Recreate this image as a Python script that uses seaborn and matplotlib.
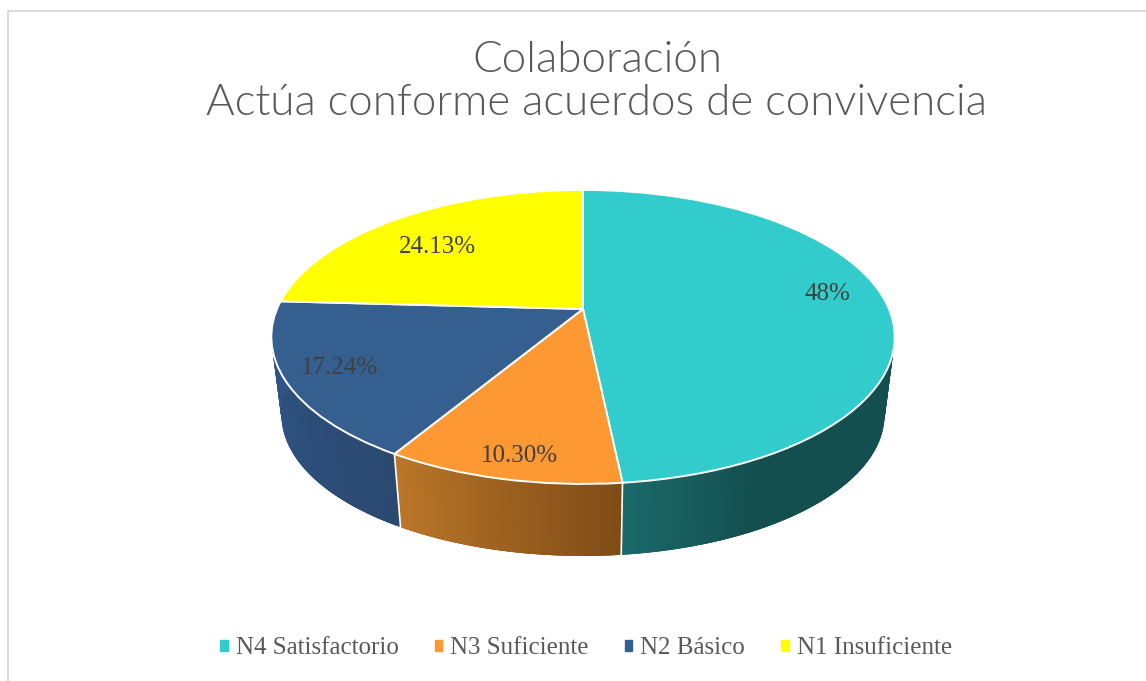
import numpy as np
import matplotlib
matplotlib.use('Agg')
import matplotlib.pyplot as plt
import seaborn as sns
from matplotlib import font_manager as fm
from matplotlib.patches import Patch
from matplotlib.transforms import Transform

sns.set_theme(style='white')

categories = ['N4 Satisfactorio', 'N3 Suficiente', 'N2 Básico', 'N1 Insuficiente']
values = [48.33, 10.30, 17.24, 24.13]
value_labels = ['48%', '10.30%', '17.24%', '24.13%']
top_colors = ['#33CCCC', '#FD9832', '#355F8E', '#FFFF00']
# wall shade at the start and end of each slice (clockwise)
wall_colors = [('#144F4F', '#1B6A6A'), ('#7F4C17', '#BC7829'), ('#2A4970', '#31568A'), ('#A0A000', '#A0A000')]
title = 'Colaboración\nActúa conforme acuerdos de convivencia'

# pixel position of the labels
label_xy = [(827, 294), (519, 456), (339, 368), (437, 247)]


class Tilt(Transform):
    # unit circle -> tilted disc seen in perspective, result in pixels
    input_dims = 2
    output_dims = 2
    is_separable = False

    def __init__(self, cx, cy, b, a, p):
        super().__init__()
        self.cx, self.cy, self.b, self.a, self.p = cx, cy, b, a, p

    def transform_non_affine(self, xy):
        xy = np.asarray(xy, dtype=float)
        d = 1 + self.p * xy[:, 1]
        return np.column_stack([self.cx + self.b * xy[:, 0] / d,
                                self.cy - self.a * xy[:, 1] / d])


top_ring = Tilt(583, 309, 306, 141.7, 0.19)
low_ring = Tilt(583, 388, 296, 136, 0.19)

fig = plt.figure(figsize=(11.46, 6.81), dpi=100)
ax = fig.add_axes([0, 0, 1, 1])

wedges = ax.pie(values, colors=top_colors, startangle=90, counterclock=False,
                wedgeprops={'edgecolor': 'white', 'linewidth': 1.4})[0]
ax.set(xlim=(0, 1146), ylim=(681, 0), aspect='auto')
ax.axis('off')
for w in wedges:
    w.set_transform(top_ring + ax.transData)
    w.set_zorder(5)

# side wall, strips overlap the next one so no seams show
ends = np.cumsum(values) / np.sum(values) * 360
starts = np.r_[0, ends[:-1]]
for i, (s, e) in enumerate(zip(starts, ends)):
    angles = np.radians(np.arange(s, e, 0.5))
    angles = np.r_[angles, np.radians(e)]
    shades = sns.blend_palette(wall_colors[i], len(angles))
    if i == 0:
        # teal stays dark until the last part of the slice
        n_light = int(len(angles) * 0.13)
        shades = [wall_colors[0][0]] * (len(angles) - n_light) + sns.blend_palette(wall_colors[0], n_light)
    ring = np.column_stack([np.sin(angles), np.cos(angles)])
    top = top_ring.transform_non_affine(ring)
    low = low_ring.transform_non_affine(ring)
    n = len(angles)
    for j in range(n - 1):
        k = min(j + 3, n - 1)
        quad = np.vstack([top[j:k + 1], low[j:k + 1][::-1]])
        ax.fill(quad[:, 0], quad[:, 1], color=shades[j], lw=0, zorder=2 + i * 0.1)
    ax.plot([top[-1, 0], low[-1, 0]], [top[-1, 1], low[-1, 1]], color='white', lw=1.2, zorder=3)

for (x, y), txt in zip(label_xy, value_labels):
    ax.text(x, y, txt, ha='center', va='center', fontsize=18, color='#404040',
            family='Liberation Serif', zorder=6)

# weight='light' picks the hairline cut, so look for the light file itself
light = [f.fname for f in fm.fontManager.ttflist
         if f.name == 'Lato' and f.fname.endswith('Lato-Light.ttf')]
title_font = fm.FontProperties(fname=light[0]) if light else fm.FontProperties(family='Lato')
title_font.set_size(31.6)
ax.text(597, 82, title, ha='center', va='center', color='#595959',
        fontproperties=title_font, linespacing=1.12)

ax.plot([8, 8, 1146], [681, 11, 11], color='#D9D9D9', lw=1.4)

handles = [Patch(color=c) for c in top_colors]
ax.legend(handles, categories, loc='center', bbox_to_anchor=(586 / 1146, 1 - 648 / 681), ncol=4,
          frameon=False, handlelength=0.3, handleheight=0.3, handletextpad=0.32, columnspacing=1.45,
          prop={'family': 'Liberation Serif', 'size': 18}, labelcolor='#595959')

fig.savefig('out.png', dpi=100)
